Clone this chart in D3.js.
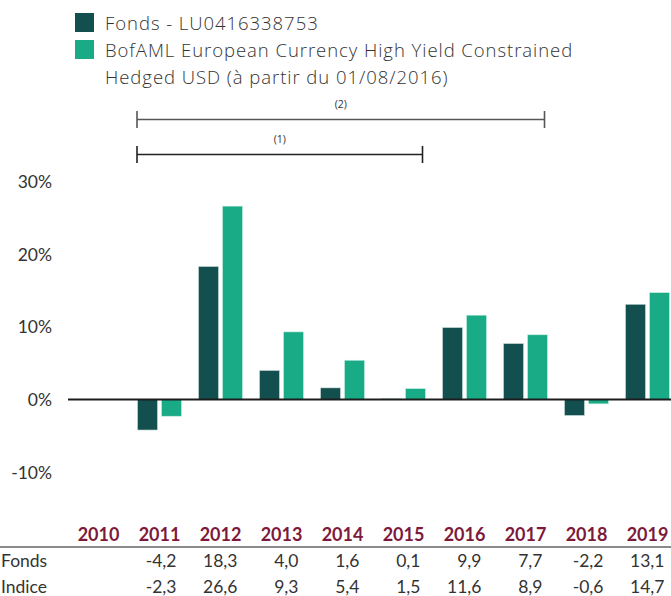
<!DOCTYPE html>
<html><head><meta charset="utf-8">
<script src="https://cdn.jsdelivr.net/npm/d3@7"></script>
<style>
html,body{margin:0;padding:0;background:#fff;}
svg{display:block;font-family:Lato, "Open Sans", sans-serif;}
</style></head>
<body>
<svg id="c" width="671" height="596"></svg>
<script>
const years = ["2010","2011","2012","2013","2014","2015","2016","2017","2018","2019"];
const seriesNames = ["Fonds - LU0416338753", "BofAML European Currency High Yield Constrained Hedged USD (à partir du 01/08/2016)"];
const fonds  = [null, -4.2, 18.3, 4.0, 1.6, 0.1, 9.9, 7.7, -2.2, 13.1];
const indice = [null, -2.3, 26.6, 9.3, 5.4, 1.5, 11.6, 8.9, -0.6, 14.7];
const fondsLabels  = ["", "-4,2", "18,3", "4,0", "1,6", "0,1", "9,9", "7,7", "-2,2", "13,1"];
const indiceLabels = ["", "-2,3", "26,6", "9,3", "5,4", "1,5", "11,6", "8,9", "-0,6", "14,7"];
const yTicks = [-10, 0, 10, 20, 30];
const rowNames = ["Fonds", "Indice"];
const brackets = [{label:"(2)", from:"2011", to:"2017"}, {label:"(1)", from:"2011", to:"2015"}];
const colors = ["#134f4e", "#19aa86"];

const svg = d3.select("#c");
const x0 = d3.scaleBand().domain(years).range([68, 678]).paddingInner(0).paddingOuter(0);
const x1 = d3.scaleBand().domain(["f","i"]).range([8.5, 52.5]).paddingInner(1/6).paddingOuter(0);
const y = d3.scaleLinear().domain([-10, 30]).range([472.2, 181.4]);
const cx = d => x0(d) + x0.bandwidth()/2;

// legend
const leg = svg.append("g").attr("font-family","'Open Sans', sans-serif").attr("font-weight",300)
  .attr("letter-spacing",0.95);
leg.append("rect").attr("x",75).attr("y",13).attr("width",19).attr("height",19).attr("fill",colors[0]);
leg.append("rect").attr("x",75).attr("y",40).attr("width",19).attr("height",19).attr("fill",colors[1]);
leg.append("text").attr("x",105).attr("y",30).attr("font-size",18.5).attr("fill","#333").text(seriesNames[0]);
const t2 = leg.append("text").attr("x",105).attr("y",57).attr("font-size",18.5).attr("fill","#333");
t2.append("tspan").attr("x",105).text("BofAML European Currency High Yield Constrained");
t2.append("tspan").attr("x",105).attr("dy",27).text("Hedged USD (à partir du 01/08/2016)");

// brackets
const by = [119.5, 154.5];
brackets.forEach((b, i) => {
  const xa = x0(b.from) + x1("f") - 0.5;
  const xb = x0(b.to) + x1("i") + x1.bandwidth() - 3;
  const g = svg.append("g").attr("stroke", i===0 ? "#555" : "#222").attr("stroke-width", 1.6);
  g.append("line").attr("x1",xa).attr("x2",xb).attr("y1",by[i]).attr("y2",by[i]);
  g.append("line").attr("x1",xa).attr("x2",xa).attr("y1",by[i]-8.5).attr("y2",by[i]+8.5);
  g.append("line").attr("x1",xb).attr("x2",xb).attr("y1",by[i]-8.5).attr("y2",by[i]+8.5);
  svg.append("text").attr("x",(xa+xb)/2).attr("y",by[i]-12).attr("text-anchor","middle")
    .attr("font-size",10.5).attr("fill","#333").attr("font-family","'Open Sans', sans-serif").text(b.label);
});

// y axis labels
const yAxis = d3.axisLeft(y).tickValues(yTicks).tickSize(0).tickPadding(0).tickFormat(d => d + "%");
const ya = svg.append("g").attr("transform","translate(52,0)").call(yAxis);
ya.select(".domain").remove();
ya.selectAll("text").attr("font-size",17.5).attr("fill","#333").attr("font-family","Lato, 'Open Sans', sans-serif").attr("dy","0.35em");

// bars
const data = years.map((yr, i) => ({yr, vals:[{k:"f", v:fonds[i]}, {k:"i", v:indice[i]}]}));
const groups = svg.append("g").selectAll("g").data(data).join("g").attr("transform", d => `translate(${x0(d.yr)},0)`);
groups.selectAll("rect").data(d => d.vals.filter(v => v.v !== null)).join("rect")
  .attr("x", d => x1(d.k)).attr("width", x1.bandwidth())
  .attr("y", d => y(Math.max(0, d.v))).attr("height", d => Math.abs(y(d.v) - y(0)))
  .attr("fill", d => d.k === "f" ? colors[0] : colors[1])
  .attr("stroke", d => d.k === "f" ? "#cfe0de" : "#c8efe4").attr("stroke-width", 0.6);

// zero line
svg.append("line").attr("x1",68).attr("x2",671).attr("y1",y(0)).attr("y2",y(0)).attr("stroke","#1d1d1d").attr("stroke-width",2.2);

// table
const xAxis = d3.axisBottom(x0).tickSize(0).tickPadding(0);
const xa = svg.append("g").attr("transform","translate(0,528)").call(xAxis);
xa.select(".domain").remove();
xa.selectAll("text").attr("font-size",18).attr("font-weight","bold").attr("fill","#7d1a3b")
  .attr("font-family","Lato, 'Open Sans', sans-serif").attr("dy","0.71em");
svg.append("line").attr("x1",0).attr("x2",671).attr("y1",547).attr("y2",547).attr("stroke","#8a8a8a").attr("stroke-width",2);

const rowY = [567, 593];
[fondsLabels, indiceLabels].forEach((labels, r) => {
  svg.append("text").attr("x",1).attr("y",rowY[r]).attr("font-size",17.5).attr("fill","#333").text(rowNames[r]);
  svg.append("g").selectAll("text").data(years).join("text")
    .attr("x", d => cx(d) + 17).attr("y", rowY[r]).attr("text-anchor","end")
    .attr("font-size",17.5).attr("fill","#333").text((d,i) => labels[i]);
});
</script>
</body></html>
